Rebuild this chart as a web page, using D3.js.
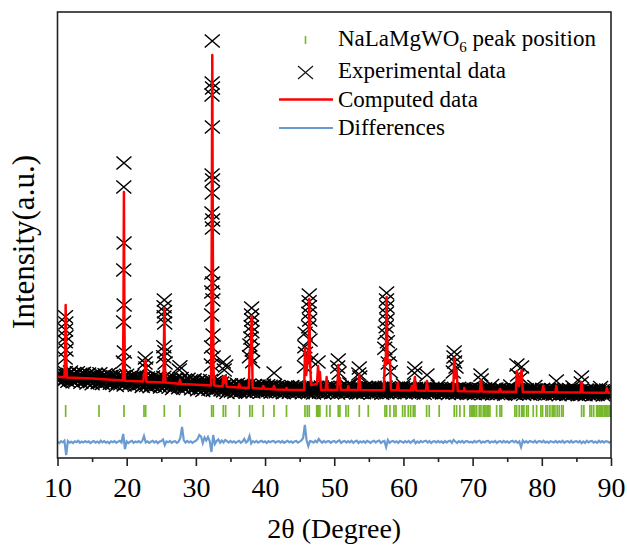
<!DOCTYPE html>
<html>
<head>
<meta charset="utf-8">
<script src="https://cdn.jsdelivr.net/npm/d3@7"></script>
<style>
body { margin: 0; background: #fff; }
svg text { font-family: "Liberation Serif", "Times New Roman", serif; fill: #000; }
</style>
</head>
<body>
<svg id="chart" width="627" height="548"></svg>
<script>
// scan grids (2theta start + step)
var gridStart = 10, expStep = 0.125, diffStep = 0.25;

// experimental intensity on the scan grid (one row = 4 degrees)
var expBg = [
  140, 93, 168, 120, 153, 80, 133, 161, 108, 175, 116, 146, 88, 156, 125, 180, 101, 136, 83, 164, 113, 150, 95, 173, 128, 106, 158, 78, 143, 122, 166, 98,
  94, 142, 70, 122, 160, 107, 82, 134, 62, 147, 118, 87, 156, 100, 132, 74, 115, 162, 84, 126, 66, 138, 104, 152, 77, 124, 92, 158, 110, 68, 136, 98,
  65, 133, 89, 110, 45, 125, 73, 95, 140, 62, 117, 80, 131, 50, 103, 68, 147, 92, 123, 55, 113, 83, 142, 75, 128, 100, 47, 120, 87, 135, 60, 107,
  66, 104, 36, 78, 126, 60, 92, 45, 120, 72, 106, 34, 94, 52, 130, 83, 42, 100, 68, 124, 55, 86, 115, 30, 102, 50, 75, 128, 90, 38, 110, 62,
  75, 28, 103, 55, 88, 15, 68, 96, 43, 110, 51, 81, 23, 91, 60, 115, 36, 71, 18, 99, 48, 85, 30, 108, 63, 41, 93, 13, 78, 57, 101, 33,
  27, 75, 3, 55, 93, 40, 15, 67, -5, 80, 51, 20, 89, 33, 65, 7, 48, 95, 17, 59, -1, 71, 37, 85, 10, 57, 25, 91, 43, 1, 69, 31,
  -9, 45, 10, 27, -25, 39, -3, 15, 51, -11, 33, 3, 44, -21, 21, -7, 57, 13, 37, -17, 29, 5, 53, -1, 41, 19, -23, 35, 9, 47, -13, 25,
  2, 29, -19, 11, 44, -2, 20, -13, 40, 6, 30, -20, 22, -8, 47, 14, -15, 26, 4, 43, -6, 16, 37, -23, 27, -9, 8, 46, 19, -17, 33, -1,
  10, -18, 27, -2, 18, -26, 6, 23, -9, 31, -4, 14, -21, 20, 1, 34, -13, 8, -24, 25, -6, 16, -17, 30, 3, -10, 21, -27, 12, -1, 26, -15,
  -11, 18, -25, 6, 29, -3, -18, 13, -30, 21, 4, -15, 26, -7, 12, -23, 2, 30, -17, 8, -28, 16, -5, 24, -21, 7, -12, 28, -1, -26, 14, -8,
  -18, 23, -4, 9, -30, 18, -13, 0, 27, -20, 13, -9, 22, -27, 5, -16, 31, -2, 60, -24, 11, -7, 28, -12, 20, 3, -29, 15, -5, 24, -21, 7,
  -10, 12, -28, -3, 26, -14, 5, -23, 22, -7, 14, -30, 6, -19, 28, 0, -25, 10, -9, 24, -17, 2, 19, -32, 11, -20, -5, 27, 4, -27, 16, -13,
  2, -22, 16, -8, 8, -28, -2, 12, -14, 19, -10, 5, -24, 10, -6, 22, 50, 0, -26, 14, -12, 7, -20, 18, -4, -15, 11, -29, 4, -7, 15, -19,
  -16, 8, -28, -2, 17, -10, -22, 4, -32, 11, -4, -20, 15, -13, 3, -26, -5, 18, -21, 0, -30, 6, -11, 13, 40, -1, -17, 16, -8, -29, 5, -14,
  -25, 9, -13, -2, -35, 5, -21, -10, 13, -26, 1, -18, 8, -32, -6, -24, 16, -12, 4, -30, -1, -16, 14, -20, 6, -8, -34, 2, -14, 10, -28, -4,
  -21, -2, -36, -15, 9, -24, -8, -32, 6, -18, -1, -37, -7, -28, 11, -12, -33, -4, -20, 8, -26, -11, 45, -39, -3, -29, -17, 10, -9, -35, 1, -23,
  -11, -35, 3, -21, -5, -41, -15, -1, -27, 6, -23, -8, 40, -3, -19, 9, -31, -13, -39, 1, -25, -6, -33, 5, -17, -28, -2, -42, -9, -20, 2, -32,
  -28, -4, -40, -14, 5, -22, -34, -8, 35, -1, -16, -32, 3, -25, -9, -38, -17, 6, -33, -12, -42, -6, -23, 1, -37, -13, -29, 4, -20, -41, -7, -26,
  -37, -3, -25, -14, -47, -7, -33, -22, 1, -38, -11, -30, -4, -44, -18, -36, 4, -24, -8, -42, 30, -28, 2, -32, -6, -20, -46, -10, -26, -2, -40, -16,
  -32, -13, -47, -26, -2, -35, -19, -43, -5, -29, -12, -48, -18, -39, 0, -23, -44, -15, -31, -3, 25, -22, -7, -50, -14, -40, -28, -1, -20, -46, -10, -34,
  -30
];

// experimental points on the Bragg peaks [2theta, intensity]
var expPeaks = [
  [11.15, 733], [11.2, 670], [11.17, 600], [11.22, 533], [11.13, 483], [11.24, 400], [11.11, 320],
  [19.6, 2270], [19.58, 2030], [19.62, 1470], [19.57, 1200], [19.63, 850], [19.55, 680], [19.66, 380], [19.52, 280],
  [22.7, 320], [22.65, 270], [22.78, 220],
  [25.44, 900], [25.4, 833], [25.47, 783], [25.42, 733], [25.49, 670], [25.37, 433], [25.52, 383], [25.35, 333], [25.55, 270],
  [27.7, 233], [27.6, 200],
  [32.37, 3490], [32.35, 3070], [32.4, 3020], [32.33, 2950], [32.38, 2630], [32.34, 2150], [32.41, 2100],
  [32.36, 1970], [32.32, 1770], [32.43, 1700], [32.39, 1620], [32.31, 1170], [32.44, 1070], [32.3, 980],
  [32.46, 900], [32.28, 750], [32.48, 550], [32.26, 430], [32.5, 330], [32.24, 250],
  [33.96, 280], [34.3, 240], [34.1, 200],
  [38.06, 820], [38.04, 750], [38.08, 700], [38.0, 633], [38.1, 583], [37.95, 520], [37.8, 450], [38.15, 400], [37.75, 333], [38.2, 283],
  [41.3, 170],
  [46.39, 950], [46.37, 883], [46.41, 833], [46.33, 767], [46.45, 700], [46.3, 633], [45.78, 567], [46.5, 500],
  [45.75, 433], [45.85, 367], [46.6, 300], [47.66, 280], [45.7, 233],
  [50.58, 300], [50.5, 230], [50.7, 170],
  [53.62, 220], [53.55, 160], [53.7, 130],
  [57.57, 970], [57.55, 900], [57.6, 833], [57.52, 767], [57.63, 700], [57.5, 633], [57.35, 570], [57.68, 483],
  [57.3, 417], [58.0, 350], [57.8, 270], [58.1, 183],
  [61.66, 220], [61.6, 170],
  [63.4, 150],
  [67.34, 380], [67.3, 330], [67.4, 280], [67.6, 230], [67.2, 180],
  [71.2, 150], [71.25, 100],
  [76.4, 250], [77.08, 230], [76.5, 150], [77.0, 120],
  [82.1, 90],
  [85.75, 130], [85.7, 70]
];

// computed (Rietveld) profile [2theta, intensity]
var calcPoints = [
  [10, 133], [11.0, 128], [11.1, 350], [11.18, 850], [11.26, 350], [11.36, 124],
  [15, 115], [19.45, 94], [19.53, 700], [19.6, 1980], [19.67, 700], [19.75, 92],
  [22.4, 84], [22.5, 160], [22.6, 140], [22.72, 300], [22.85, 82],
  [25.3, 75], [25.37, 330], [25.44, 820], [25.51, 330], [25.6, 74],
  [27.55, 62], [27.7, 100], [27.85, 60],
  [31.0, 50], [32.2, 46], [32.28, 1300], [32.37, 3350], [32.46, 1300], [32.55, 200], [32.65, 44],
  [33.85, 36], [33.96, 130], [34.1, 70], [34.3, 140], [34.45, 33],
  [36.15, 26], [36.27, 60], [36.4, 25],
  [37.65, 21], [37.8, 400], [37.92, 250], [38.06, 740], [38.2, 19],
  [39.6, 13], [39.74, 40], [39.9, 12],
  [41.15, 7], [41.3, 40], [41.45, 6],
  [43.0, 3], [43.1, 20], [43.25, 2],
  [45.65, 0], [45.78, 420], [45.95, 150], [46.1, 250], [46.3, 400], [46.39, 910], [46.5, 300], [46.65, 50],
  [47.5, 60], [47.66, 240], [47.8, 100], [47.93, 180], [48.1, 0],
  [48.75, 0], [48.9, 130], [49.05, 0],
  [50.45, 0], [50.58, 250], [50.72, 60], [50.82, 120], [50.95, 0],
  [51.9, 0], [52.03, 40], [52.15, 0],
  [53.45, -1], [53.62, 150], [53.78, -1],
  [57.15, -2], [57.33, 320], [57.45, 250], [57.57, 930], [57.7, 300], [57.85, 280], [58.05, 300], [58.2, -3],
  [59.05, -3], [59.2, 70], [59.35, -4],
  [61.05, -5], [61.2, 40], [61.4, -5], [61.66, 130], [61.8, -5],
  [63.25, -7], [63.4, 90], [63.55, -7],
  [67.2, -11], [67.34, 320], [67.5, 120], [67.68, 200], [67.85, -11],
  [68.7, -12], [68.8, 20], [68.9, -12],
  [71.05, -15], [71.2, 100], [71.35, -15],
  [73.8, -17], [73.95, 10], [74.1, -17],
  [76.25, -19], [76.4, 190], [76.7, 40], [77.08, 200], [77.25, -19],
  [80.05, -21], [80.2, 40], [80.35, -21],
  [81.95, -22], [82.1, 40], [82.25, -22],
  [85.6, -24], [85.75, 80], [85.9, -24],
  [89.25, -27], [89.4, 20], [89.55, -27], [90, -27]
];

// difference curve (obs - calc) on the 0.25 grid
var diffValues = [
  5, -12, 8, -4, 14, -130, 10, -6, 3, -10, 7, -2, 12, -8, 4, -5,
  9, -3, 6, -11, 2, 10, -7, 5, -9, 13, -4, 8, -6, 3, -12, 7,
  -2, 9, -8, 4, 11, -5, 80, -70, 6, -10, 3, 12, -7, 5, -3, 8,
  -6, 10, 60, -4, 7, -9, 2, 12, -5, 8, -11, 4, 9, 25, -30, 6,
  -3, 11, -7, 5, 9, -8, 3, 40, 150, 20, -6, 10, -4, 7, -9, 4,
  12, 30, 70, 55, -10, 45, 15, 50, 8, -100, 70, -20, 10, 25, -8, 15,
  -5, 20, 8, -6, 11, -3, 7, -9, 4, 12, -7, 6, 30, -5, 10, 60,
  -15, 8, -4, 10, -7, 5, 12, -3, 6, -10, 9, -2, 7, 11, -6, 4,
  8, -5, 10, -8, 3, 12, -4, 7, -9, 5, 11, -6, 4, 15, 40, 170,
  20, -40, 10, 5, -6, 12, -3, 30, 8, -7, 10, -4, 6, 9, -8, 5,
  11, -5, 7, 15, -9, 4, 10, -6, 8, -3, 12, -7, 5, 14, -10, 6,
  -4, 9, -7, 11, 3, -8, 6, 12, -5, 8, 15, -10, 4, 10, -50, 20,
  -8, 6, 10, -4, 7, -9, 12, 3, -6, 9, -3, 11, -7, 5, 18, -12,
  6, -8, 10, -3, 7, 12, -5, 9, -10, 4, 8, -6, 11, -4, 6, -9,
  10, -5, 7, 12, -8, 20, 5, -10, 8, -4, 11, -7, 6, 9, -5, 3,
  -6, 10, -3, 8, 12, -8, 5, -4, 9, 11, -7, 6, -2, 10, -9, 4,
  8, -6, 11, -3, 7, -9, 5, 12, -4, 10, -8, 6, -50, 15, -5, 9,
  -7, 10, 4, -5, 11, -8, 6, 9, -3, 12, -6, 5, -9, 8, 3, -4,
  10, -6, 7, -3, 12, -8, 5, 9, -5, 11, -7, 4, 8, -4, 10, -12,
  6, -9, 11, -4, 7, 10, -6, 5, -8, 12, -3, 8, -5, 9, 4, -6,
  5
];
var diffOffset = -520;

// NaLaMgWO6 Bragg positions
var peakPositions = [
  11.18, 16.0, 19.61, 22.5, 22.74, 25.44, 27.7, 32.28, 32.52, 33.96, 34.3, 36.27, 37.8, 38.15,
  39.74, 41.29, 43.1, 45.77, 46.1, 46.39, 47.46, 47.6, 47.75, 47.93, 48.9, 49.38, 50.58, 50.82,
  51.69, 52.03, 53.62, 54.92, 57.33, 57.57, 58.05, 58.63, 58.92, 59.88, 60.22, 60.7, 61.04,
  61.42, 61.66, 63.35, 63.73, 65.17, 67.34, 67.68, 68.16, 68.79, 69.61, 69.8, 70.0, 70.15, 70.33,
  70.58, 70.96, 71.2, 71.53, 71.7, 71.92, 72.1, 72.26, 72.5, 73.47, 73.95, 74.19, 76.11, 76.36,
  76.73, 77.08, 77.25, 77.41, 77.8, 78.04, 78.76, 79.25, 79.87, 80.11, 80.59, 80.83, 81.17,
  81.5, 81.7, 81.9, 82.22, 82.51, 82.86, 83.09, 85.75, 86.08, 86.95, 87.19, 87.5, 87.92,
  88.1, 88.29, 88.45, 88.64, 88.8, 89.02, 89.2, 89.36, 89.55, 89.74, 89.9
];
var tickTop = -150, tickBottom = -270;

var xTicks = [10, 20, 30, 40, 50, 60, 70, 80, 90];
var xMinorTicks = [15, 25, 35, 45, 55, 65, 75, 85];

var mLeft = 57.5, mRight = 611, mTop = 12, mBottom = 458;

var x = d3.scaleLinear().domain([10, 90]).range([mLeft, mRight]);
var y = d3.scaleLinear().domain([-680, 3780]).range([mBottom, mTop]);

var svg = d3.select("#chart");

svg.append("clipPath").attr("id", "clip")
  .append("rect")
    .attr("x", mLeft).attr("y", mTop)
    .attr("width", mRight - mLeft).attr("height", mBottom - mTop);

var plot = svg.append("g").attr("clip-path", "url(#clip)");

var xMark = "M-7.5,-6.5L7.5,6.5M-7.5,6.5L7.5,-6.5";

// experimental points
var expData = expBg.map(function (v, i) { return [gridStart + i * expStep, v]; }).concat(expPeaks);

plot.append("g")
  .selectAll("path")
  .data(expData)
  .enter().append("path")
    .attr("d", xMark)
    .attr("transform", function (d) { return "translate(" + x(d[0]) + "," + y(d[1]) + ")"; })
    .attr("fill", "none")
    .attr("stroke", "#000")
    .attr("stroke-width", 1.5);

// computed profile
plot.append("path")
  .datum(calcPoints)
  .attr("fill", "none")
  .attr("stroke", "#ff0000")
  .attr("stroke-width", 2.5)
  .attr("stroke-linejoin", "round")
  .attr("d", d3.line().x(function (d) { return x(d[0]); }).y(function (d) { return y(d[1]); }));

// bragg ticks
plot.append("g")
  .selectAll("line")
  .data(peakPositions)
  .enter().append("line")
    .attr("x1", function (d) { return x(d); })
    .attr("x2", function (d) { return x(d); })
    .attr("y1", y(tickTop))
    .attr("y2", y(tickBottom))
    .attr("stroke", "#76b82a")
    .attr("stroke-width", 1.7);

// difference curve
var diffData = diffValues.map(function (v, i) { return [gridStart + i * diffStep, v + diffOffset]; });

plot.append("path")
  .datum(diffData)
  .attr("fill", "none")
  .attr("stroke", "#6a9bd1")
  .attr("stroke-width", 2.2)
  .attr("d", d3.line().x(function (d) { return x(d[0]); }).y(function (d) { return y(d[1]); }));

// frame
svg.append("rect")
  .attr("x", mLeft).attr("y", mTop)
  .attr("width", mRight - mLeft).attr("height", mBottom - mTop)
  .attr("fill", "none")
  .attr("stroke", "#222")
  .attr("stroke-width", 1.6);

// x axis
var axisG = svg.append("g")
  .attr("transform", "translate(0," + mBottom + ")")
  .call(d3.axisBottom(x).tickValues(xTicks).tickSize(8).tickPadding(11).tickFormat(d3.format("d")));
axisG.select(".domain").remove();
axisG.selectAll("line").attr("stroke", "#222").attr("stroke-width", 1.6);
axisG.selectAll("text").style("font-size", "28px");

var minorG = svg.append("g")
  .attr("transform", "translate(0," + mBottom + ")")
  .call(d3.axisBottom(x).tickValues(xMinorTicks).tickSize(4).tickFormat(""));
minorG.select(".domain").remove();
minorG.selectAll("line").attr("stroke", "#222").attr("stroke-width", 1.6);

// axis titles
svg.append("text")
  .attr("x", (mLeft + mRight) / 2)
  .attr("y", 538)
  .attr("text-anchor", "middle")
  .style("font-size", "28px")
  .text("2θ (Degree)");

svg.append("text")
  .attr("transform", "translate(34,242) rotate(-90)")
  .attr("text-anchor", "middle")
  .style("font-size", "31px")
  .text("Intensity(a.u.)");

// legend
var legend = svg.append("g");
var textX = 338;

legend.append("line")
  .attr("x1", 305.5).attr("x2", 305.5).attr("y1", 36).attr("y2", 44)
  .attr("stroke", "#76b82a").attr("stroke-width", 1.6);
var t1 = legend.append("text").attr("x", textX).attr("y", 45.5).style("font-size", "23px");
t1.append("tspan").text("NaLaMgWO");
t1.append("tspan").attr("dy", 6).style("font-size", "15px").text("6");
t1.append("tspan").attr("dy", -6).text(" peak position");

legend.append("path")
  .attr("d", xMark)
  .attr("transform", "translate(305.5,72.5)")
  .attr("fill", "none").attr("stroke", "#151515").attr("stroke-width", 1.2);
legend.append("text").attr("x", textX).attr("y", 77.5).style("font-size", "23px").text("Experimental data");

legend.append("line")
  .attr("x1", 279).attr("x2", 333).attr("y1", 99.5).attr("y2", 99.5)
  .attr("stroke", "#ff0000").attr("stroke-width", 2.5);
legend.append("text").attr("x", textX).attr("y", 106.5).style("font-size", "23px").text("Computed data");

legend.append("line")
  .attr("x1", 279).attr("x2", 333).attr("y1", 128).attr("y2", 128)
  .attr("stroke", "#6a9bd1").attr("stroke-width", 2);
legend.append("text").attr("x", textX).attr("y", 135).style("font-size", "23px").text("Differences");
</script>
</body>
</html>
